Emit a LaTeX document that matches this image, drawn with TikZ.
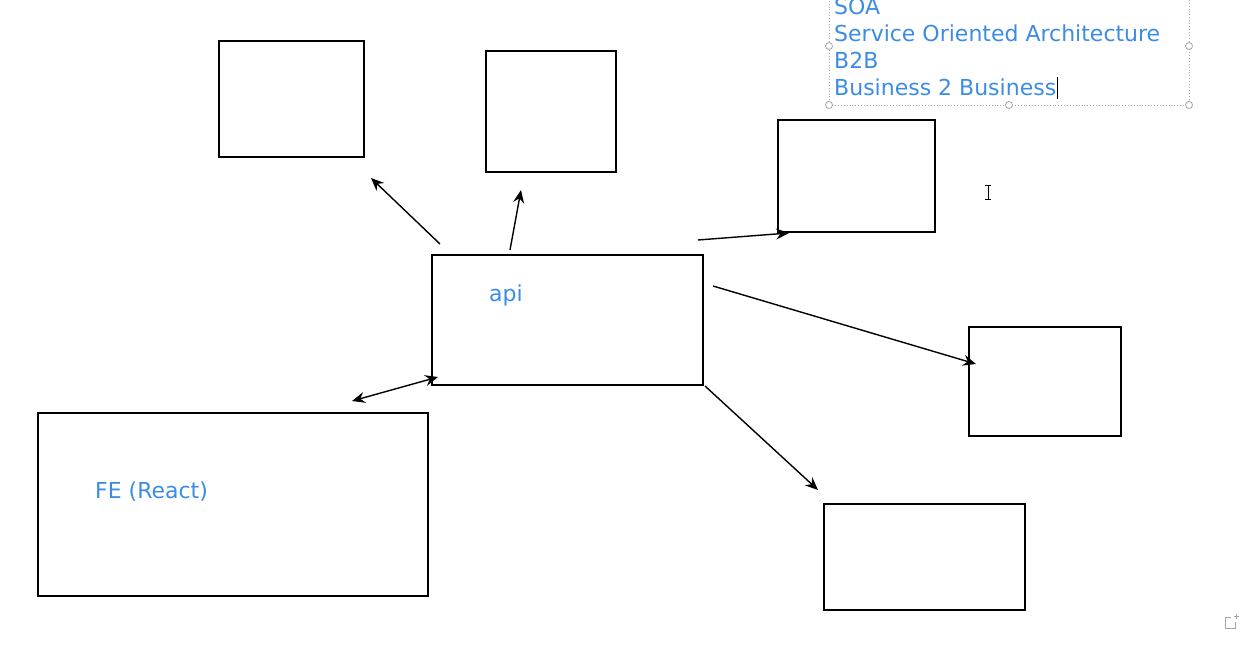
\documentclass[tikz,border=0pt]{standalone}
\usepackage{fontspec}
\setmainfont{DejaVu Sans}
\usetikzlibrary{arrows.meta}
\definecolor{txtblue}{RGB}{60,140,230}
\definecolor{selgray}{RGB}{165,165,165}
\begin{document}
\begin{tikzpicture}[x=1pt,y=-1pt,
  box/.style={draw, line width=1.7pt, inner sep=0pt, outer sep=0pt, anchor=north west},
  arr/.style={line width=1.4pt, -{Stealth[length=13pt,width=11pt,inset=4.5pt]}},
  darr/.style={line width=1.4pt, {Stealth[length=13pt,width=11pt,inset=4.5pt]}-{Stealth[length=13pt,width=11pt,inset=4.5pt]}},
  lbl/.style={text=txtblue, font=\fontsize{22}{27}\selectfont, inner sep=0pt, anchor=base west},
  handle/.style={draw=selgray, fill=white, line width=0.8pt}]
\useasboundingbox (0,0) rectangle (1241,647);
% boxes
\node[box, minimum width=145pt, minimum height=116pt] (b1) at (219,41) {};
\node[box, minimum width=130pt, minimum height=121pt] (b2) at (486,51) {};
\node[box, minimum width=157pt, minimum height=112pt] (b3) at (778,120) {};
\node[box, minimum width=271pt, minimum height=130pt] (api) at (432,255) {};
\node[box, minimum width=152pt, minimum height=109pt] (b4) at (969,327) {};
\node[box, minimum width=201pt, minimum height=106pt] (b5) at (824,504) {};
\node[box, minimum width=390pt, minimum height=183pt] (fe) at (38,413) {};
% labels
\node[lbl] (apilbl) at (489,301) {api};
\node[lbl] (felbl) at (95,498) {FE (React)};
% connector endpoints
\coordinate (s1) at (440,244); \coordinate (e1) at (371,178);
\coordinate (s2) at (510,250); \coordinate (e2) at (521,190);
\coordinate (s3) at (698,240); \coordinate (e3) at (789,233);
\coordinate (s4) at (713,286); \coordinate (e4) at (976,364);
\coordinate (s5) at (705,386); \coordinate (e5) at (818,490);
\coordinate (s6) at (352,401); \coordinate (e6) at (438,377);
\draw[arr] (s1) -- (e1);
\draw[arr] (s2) -- (e2);
\draw[arr] (s3) -- (e3);
\draw[arr] (s4) -- (e4);
\draw[arr] (s5) -- (e5);
\draw[darr] (s6) -- (e6);
% text box with selection frame
\draw[selgray, dotted, line width=0.9pt] (829,-5) -- (829,105) -- (1189,105) -- (1189,-5);
\foreach \p in {(829,46),(1189,46),(829,105),(1009,105),(1189,105)}
  \draw[handle] \p circle (3.5pt);
\node[lbl] (t1) at (834,15) {SOA};
\node[lbl] (t2) at (834,42) {Service Oriented Architecture};
\node[lbl] (t3) at (834,69) {B2B};
\node[lbl] (t4) at (834,96) {Business 2 Business};
\draw[line width=1pt] (1057,77) -- (1057,99);
% mouse I-beam cursor
\draw[line width=0.8pt] (985,185) -- (991,185) (988,185) -- (988,199) (985,199) -- (991,199);
% small corner icon
\draw[selgray, line width=0.9pt] (1231,617) -- (1225,617) -- (1225,628) -- (1235,628) -- (1235,622);
\draw[selgray, line width=0.8pt] (1233.5,616) -- (1238.5,616) (1236,613.5) -- (1236,618.5);
\end{tikzpicture}
\end{document}
